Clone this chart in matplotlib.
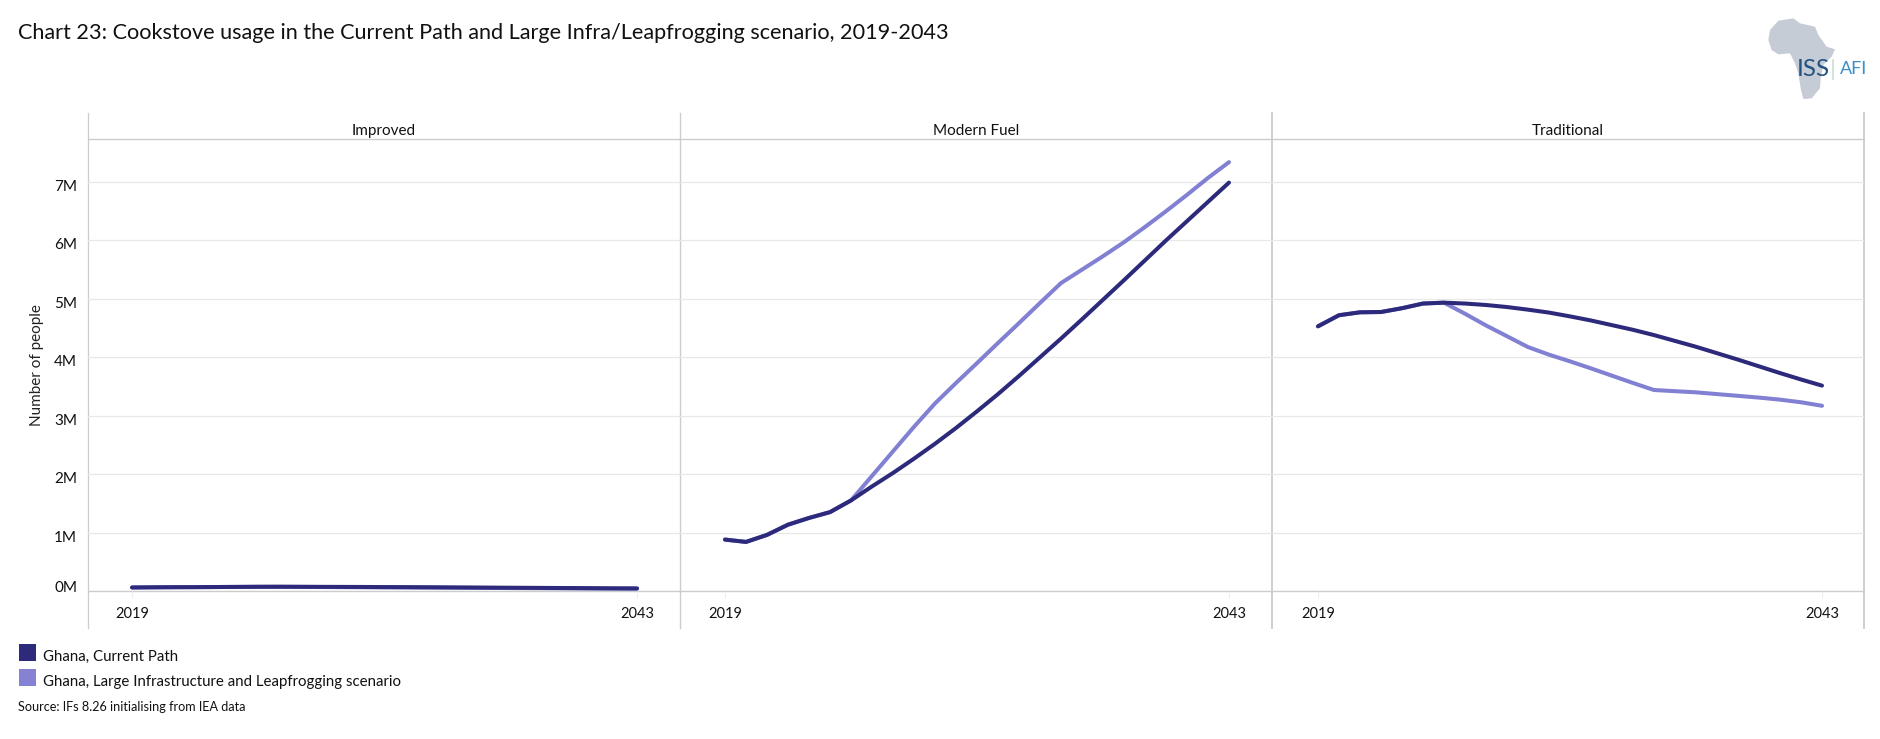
import numpy as np
import matplotlib
matplotlib.use("Agg")
import matplotlib.pyplot as plt
from matplotlib.patches import Polygon, Rectangle
from matplotlib.transforms import ScaledTranslation

plt.rcParams["font.family"] = ["Lato", "DejaVu Sans"]

years = list(range(2019, 2044))
panels = ["Improved", "Modern Fuel", "Traditional"]
y_ticks = [0, 1, 2, 3, 4, 5, 6, 7]
y_labels = ["0M", "1M", "2M", "3M", "4M", "5M", "6M", "7M"]
x_ticks = [2019, 2043]
legend_labels = ["Ghana, Current Path", "Ghana, Large Infrastructure and Leapfrogging scenario"]

improved_cp = [0.06, 0.063, 0.065, 0.066, 0.068, 0.07, 0.072, 0.073, 0.072, 0.071, 0.07, 0.069,
               0.067, 0.066, 0.064, 0.062, 0.06, 0.058, 0.056, 0.054, 0.052, 0.05, 0.048, 0.046, 0.045]
improved_lf = [0.06, 0.063, 0.065, 0.066, 0.068, 0.07, 0.072, 0.072, 0.07, 0.068, 0.066, 0.064,
               0.062, 0.06, 0.058, 0.056, 0.054, 0.052, 0.05, 0.048, 0.046, 0.044, 0.042, 0.04, 0.038]

modern_cp = [0.88, 0.84, 0.96, 1.135, 1.25, 1.35, 1.55, 1.79, 2.02, 2.265, 2.52, 2.79, 3.075,
             3.37, 3.68, 4.0, 4.32, 4.65, 4.985, 5.32, 5.66, 6.0, 6.33, 6.66, 6.99]
modern_lf = [0.88, 0.84, 0.96, 1.135, 1.25, 1.35, 1.55, 1.97, 2.39, 2.81, 3.21, 3.56, 3.90,
             4.245, 4.585, 4.93, 5.27, 5.50, 5.73, 5.97, 6.23, 6.50, 6.78, 7.07, 7.34]

trad_cp = [4.53, 4.72, 4.77, 4.775, 4.84, 4.92, 4.935, 4.92, 4.895, 4.86, 4.815, 4.765, 4.70,
           4.63, 4.55, 4.47, 4.38, 4.28, 4.18, 4.07, 3.96, 3.845, 3.73, 3.62, 3.515]
trad_lf = [4.53, 4.72, 4.77, 4.775, 4.84, 4.92, 4.935, 4.745, 4.545, 4.36, 4.175, 4.045, 3.93,
           3.81, 3.685, 3.56, 3.44, 3.42, 3.40, 3.37, 3.34, 3.31, 3.275, 3.23, 3.17]

current_path = [improved_cp, modern_cp, trad_cp]
leapfrogging = [improved_lf, modern_lf, trad_lf]

DARK = "#2d2a7b"
LIGHT = "#8280d2"
BORDER = "#cccccc"
GRID = "#e8e8e8"
W, H = 1880, 739

# panel layout in pixels: left, right, x of 2019, x of 2043
layout = [(87.5, 680, 132, 637), (680, 1272, 725, 1229), (1272, 1864, 1318, 1822)]
top, bottom = 139, 591
px_per_m = (591 - 182) / 7

fig = plt.figure(figsize=(W / 100, H / 100), dpi=100, facecolor="white")

for i, (left, right, x0, x1) in enumerate(layout):
    ax = fig.add_axes([left / W, 1 - bottom / H, (right - left) / W, (bottom - top) / H])
    per_year = (x1 - x0) / 24
    ax.set_xlim(2019 - (x0 - left) / per_year, 2043 + (right - x1) / per_year)
    ax.set_ylim(0, (bottom - top) / px_per_m)
    ax.set_facecolor("none")
    for s in ax.spines.values():
        s.set_visible(False)
    ax.grid(axis="y", color=GRID, lw=0.9)
    ax.set_axisbelow(True)
    ax.plot(years, leapfrogging[i], color=LIGHT, lw=2.9, solid_capstyle="round")
    ax.plot(years, current_path[i], color=DARK, lw=2.9, solid_capstyle="round")
    ax.set_xticks(x_ticks)
    ax.set_xticklabels([str(t) for t in x_ticks], fontsize=10.5, color="#111111")
    ax.tick_params(axis="x", length=5, color="#eeeeee", pad=6.5)
    ax.set_yticks(y_ticks)
    if i == 0:
        ax.set_yticklabels(y_labels, fontsize=11, color="#111111")
        ax.tick_params(axis="y", length=0, pad=7.5)
        for tick, lab in zip(y_ticks, ax.get_yticklabels()):
            dy = 5 if tick == 0 else -3.5
            lab.set_transform(lab.get_transform() + ScaledTranslation(0, dy / 100, fig.dpi_scale_trans))
        ax.set_ylabel("Number of people", fontsize=11, color="#222222")
        ax.yaxis.set_label_coords((43.5 - left) / (right - left), 0.5)
    else:
        ax.tick_params(axis="y", length=0, labelleft=False)

# page layer, in reference pixels
page = fig.add_axes([0, 0, 1, 1], zorder=-1)
page.set_xlim(0, W)
page.set_ylim(H, 0)
page.axis("off")

page.plot([87.5, 1864], [top, top], color=BORDER, lw=1.0)
page.plot([87.5, 1864], [bottom, bottom], color=BORDER, lw=1.0)
for x, lw in zip([87.5, 680, 1272, 1864], [0.9, 1.0, 1.3, 1.3]):
    page.plot([x, x], [113, 628], color=BORDER, lw=lw)

for (left, right, _, _), name in zip(layout, panels):
    page.text((left + right) / 2, 131, name, ha="center", va="center", fontsize=11, color="#111111")

page.text(18, 33, "Chart 23: Cookstove usage in the Current Path and Large Infra/Leapfrogging scenario, 2019-2043",
          fontsize=15.6, va="center", color="#111111")

for y, colour, label in zip([644, 669], [DARK, "#8582d3"], legend_labels):
    page.add_patch(Rectangle((19, y), 17, 17, color=colour, lw=0))
    page.text(43, y + 13, label, fontsize=10.8, va="center", color="#111111")
page.text(18, 707, "Source: IFs 8.26 initialising from IEA data", fontsize=9.1, va="center", color="#111111")

# logo
africa = [(235, 62), (280, 55), (300, 70), (345, 80), (355, 105), (380, 140), (405, 148), (395, 170),
          (370, 195), (362, 235), (360, 265), (335, 295), (310, 297), (302, 265), (295, 220), (285, 190),
          (270, 160), (235, 163), (215, 150), (205, 120), (210, 90)]
page.add_patch(Polygon([(1700 + x / 3, y / 3) for x, y in africa], color="#c5ccd6", lw=0))
page.text(1797, 69.5, "ISS", fontsize=17.5, ha="left", va="center", color="#24527f")
page.plot([1832.5, 1832.5], [60, 78.5], color="#c9dfd2", lw=1.2)
page.text(1839.5, 69.5, "AFI", fontsize=13, ha="left", va="center", color="#3a8fc9")

fig.savefig("out.png", dpi=100, facecolor="white")
